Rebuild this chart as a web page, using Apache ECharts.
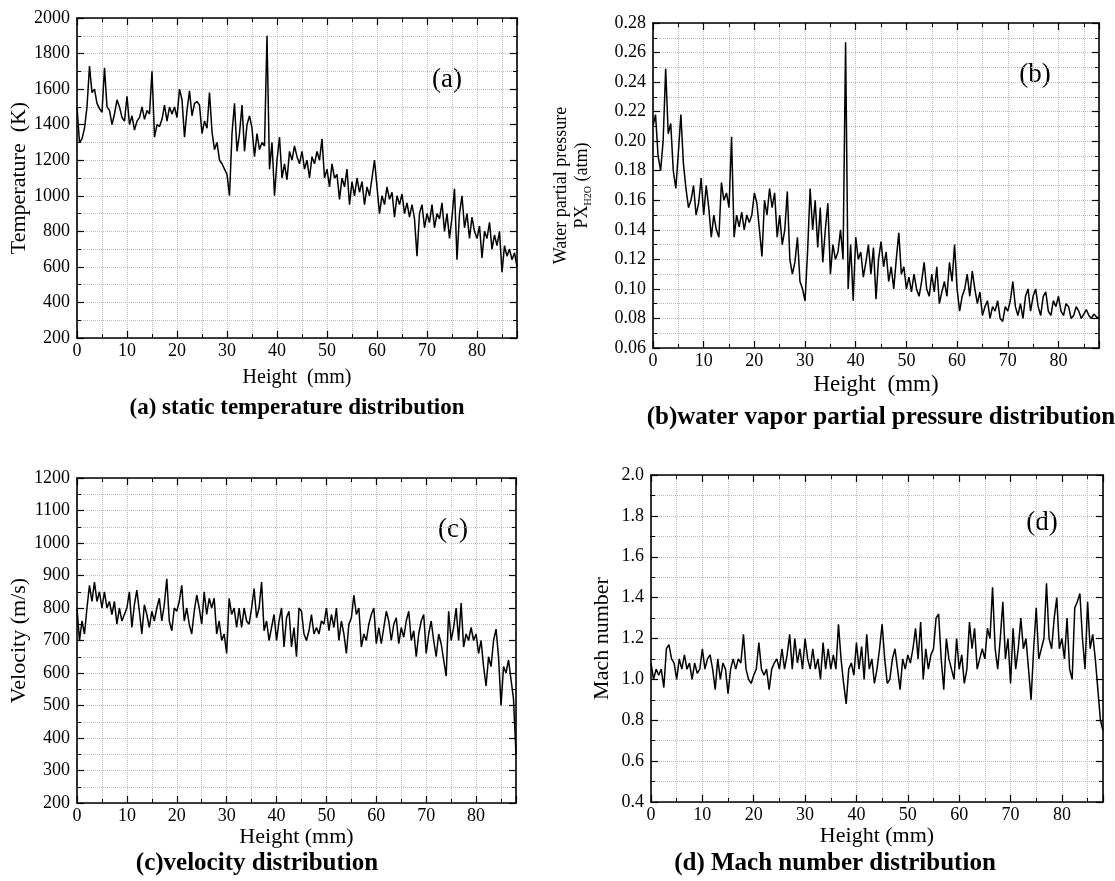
<!DOCTYPE html>
<html>
<head>
<meta charset="utf-8">
<script src="https://cdn.jsdelivr.net/npm/echarts@6.0.0/dist/echarts.min.js"></script>
<style>
html, body { margin: 0; padding: 0; background: #fff; }
#box { width: 1115px; height: 881px; }
</style>
</head>
<body>
<div id="box"></div>
<script>
// sampling step of the height axis (mm)
var STEP = 0.5;

// (a) static temperature (K)
var temperature = [
    1500, 1300, 1320, 1380, 1500, 1730, 1580, 1600, 1520, 1490,
    1470, 1720, 1500, 1480, 1400, 1460, 1540, 1500, 1440, 1420,
    1560, 1400, 1450, 1370, 1420, 1440, 1500, 1430, 1480, 1460,
    1700, 1330, 1400, 1390, 1430, 1510, 1420, 1500, 1460, 1500,
    1440, 1600, 1540, 1330, 1480, 1590, 1450, 1520, 1530, 1510,
    1350, 1420, 1380, 1580, 1360, 1260, 1300, 1200, 1180, 1150,
    1120, 1000, 1350, 1520, 1250, 1350, 1510, 1250, 1400, 1450,
    1380, 1220, 1350, 1260, 1300, 1280, 1900, 1150, 1300, 1000,
    1200, 1330, 1100, 1180, 1090, 1250, 1200, 1280, 1220, 1180,
    1250, 1150, 1200, 1100, 1220, 1180, 1250, 1200, 1320, 1100,
    1150, 1050, 1180, 1100, 1120, 980, 1100, 1050, 1150, 950,
    1080, 1000, 1100, 1020, 1080, 950, 1050, 1000, 1100, 1200,
    1050, 900, 1000, 950, 1050, 980, 1020, 880, 1000, 950,
    1010, 900, 960, 880, 950, 870, 660, 900, 950, 820,
    900, 850, 950, 820, 900, 870, 960, 800, 900, 760,
    880, 1040, 640, 900, 1000, 820, 900, 760, 880, 800,
    760, 830, 650, 800, 760, 850, 700, 780, 720, 800,
    570, 720, 660, 700, 640, 680, 600
];

// (b) water vapor partial pressure (atm)
var pressure = [
    0.210, 0.218, 0.190, 0.180, 0.200, 0.249, 0.205, 0.212, 0.180, 0.168,
    0.192, 0.218, 0.185, 0.168, 0.155, 0.160, 0.170, 0.150, 0.158, 0.175,
    0.150, 0.170, 0.155, 0.135, 0.150, 0.140, 0.135, 0.172, 0.160, 0.165,
    0.155, 0.203, 0.135, 0.150, 0.142, 0.152, 0.140, 0.150, 0.145, 0.150,
    0.165, 0.158, 0.140, 0.122, 0.160, 0.150, 0.168, 0.155, 0.165, 0.135,
    0.150, 0.130, 0.140, 0.166, 0.120, 0.110, 0.118, 0.135, 0.105, 0.100,
    0.092, 0.125, 0.168, 0.140, 0.160, 0.128, 0.155, 0.118, 0.140, 0.158,
    0.110, 0.130, 0.120, 0.125, 0.140, 0.120, 0.267, 0.100, 0.130, 0.092,
    0.135, 0.120, 0.125, 0.108, 0.118, 0.130, 0.110, 0.128, 0.093, 0.120,
    0.132, 0.115, 0.125, 0.105, 0.115, 0.100, 0.120, 0.138, 0.110, 0.115,
    0.100, 0.108, 0.098, 0.110, 0.100, 0.095, 0.105, 0.118, 0.100, 0.095,
    0.110, 0.098, 0.115, 0.090, 0.098, 0.105, 0.095, 0.118, 0.105, 0.130,
    0.100, 0.085, 0.095, 0.100, 0.110, 0.095, 0.112, 0.100, 0.090, 0.098,
    0.082, 0.088, 0.092, 0.080, 0.088, 0.085, 0.092, 0.080, 0.078, 0.088,
    0.085, 0.092, 0.105, 0.088, 0.082, 0.090, 0.080, 0.095, 0.100, 0.085,
    0.095, 0.100, 0.088, 0.082, 0.095, 0.098, 0.085, 0.082, 0.092, 0.088,
    0.095, 0.085, 0.082, 0.090, 0.088, 0.080, 0.082, 0.088, 0.085, 0.080,
    0.083, 0.086, 0.082, 0.080, 0.083, 0.081, 0.080
];

// (c) velocity (m/s)
var velocity = [
    800, 700, 760, 720, 800, 870, 820, 880, 820, 850,
    800, 850, 800, 820, 780, 820, 750, 800, 760, 780,
    800, 850, 740, 810, 855, 790, 720, 810, 780, 740,
    790, 760, 800, 830, 760, 810, 890, 760, 730, 800,
    790, 820, 870, 760, 800, 750, 720, 790, 840, 800,
    750, 850, 780, 830, 800, 830, 720, 760, 700, 720,
    660, 830, 780, 800, 740, 800, 740, 800, 760, 750,
    800, 860, 770, 800, 880, 730, 760, 700, 740, 780,
    700, 760, 800, 680, 770, 790, 680, 740, 650, 800,
    790, 720, 700, 730, 780, 720, 740, 720, 760, 750,
    800, 730, 780, 740, 800, 700, 760, 720, 660, 750,
    770, 840, 780, 800, 680, 720, 700, 750, 780, 800,
    690, 740, 690, 740, 790, 760, 700, 750, 770, 690,
    740, 710, 760, 790, 700, 730, 650, 720, 760, 780,
    660, 720, 760, 700, 650, 720, 690, 640, 590, 790,
    700, 740, 800, 700, 815, 680, 720, 700, 740, 700,
    720, 660, 700, 620, 560, 650, 620, 700, 735, 650,
    500, 620, 600, 640, 580, 520, 350
];

// (d) Mach number
var mach = [
    1.08, 1.00, 1.05, 1.02, 1.05, 0.96, 1.15, 1.17, 1.10, 1.08,
    1.00, 1.10, 1.05, 1.12, 1.05, 1.08, 1.00, 1.08, 1.03, 1.05,
    1.15, 1.05, 1.10, 1.12, 1.05, 0.95, 1.10, 1.00, 1.08, 1.05,
    0.93, 1.05, 1.10, 1.05, 1.10, 1.08, 1.22, 1.05, 1.00, 0.98,
    1.02, 1.05, 1.18, 1.05, 1.02, 1.05, 0.95, 1.05, 1.08, 1.10,
    1.05, 1.15, 1.05, 1.12, 1.22, 1.05, 1.20, 1.08, 1.15, 1.05,
    1.20, 1.10, 1.05, 1.15, 1.05, 1.10, 1.00, 1.18, 1.05, 1.15,
    1.05, 1.12, 1.05, 1.27, 1.10, 0.98, 0.88, 1.05, 1.08, 1.02,
    1.18, 1.05, 1.16, 1.00, 1.22, 1.05, 1.10, 0.98, 1.05, 1.15,
    1.27, 1.10, 0.98, 1.00, 1.10, 1.15, 1.05, 0.95, 1.10, 1.05,
    1.12, 1.08, 1.15, 1.25, 1.10, 1.28, 1.00, 1.15, 1.05, 1.12,
    1.15, 1.30, 1.32, 1.10, 0.95, 1.20, 1.10, 1.05, 1.00, 1.20,
    1.05, 1.12, 0.98, 1.05, 1.28, 1.15, 1.25, 1.05, 1.10, 1.15,
    1.10, 1.25, 1.20, 1.45, 1.15, 1.05, 1.20, 1.38, 1.10, 1.20,
    0.98, 1.25, 1.05, 1.15, 1.30, 1.15, 1.20, 1.05, 0.90, 1.15,
    1.35, 1.10, 1.15, 1.20, 1.47, 1.20, 1.15, 1.30, 1.40, 1.15,
    1.20, 1.10, 1.30, 1.05, 1.00, 1.35, 1.38, 1.42, 1.20, 1.05,
    1.38, 1.15, 1.22, 1.10, 0.95, 0.80, 0.75
];

// axis ranges: [min, max, major interval]
var xRange = [0, 88, 10];
var tempRange = [200, 2000, 200];
var pressRange = [0.06, 0.28, 0.02];
var velRange = [200, 1200, 100];
var machRange = [0.4, 2.0, 0.2];

var heights = temperature.map(function (v, i) { return +(i * STEP).toFixed(1); });

var FONT = 'Liberation Serif';
var GRIDLINE = {show: true, lineStyle: {color: '#bdbdbd', type: 'dotted', width: 1}};
var FRAME = {show: true, onZero: false, lineStyle: {color: '#000', width: 1.6}};
var TICK = {show: true, inside: true, length: 7, lineStyle: {color: '#000', width: 1.2}};
var MINOR = {show: true, splitNumber: 2, length: 4, lineStyle: {color: '#000', width: 1}};

var charts = echarts.init(document.getElementById('box'));

function makeX(gi, name, nameSize, nameGap) {
    return [{
        gridIndex: gi, type: 'value', position: 'bottom',
        min: xRange[0], max: xRange[1], interval: xRange[2],
        name: name, nameLocation: 'middle', nameGap: nameGap,
        nameTextStyle: {fontFamily: FONT, fontSize: nameSize, color: '#000'},
        axisLine: FRAME, axisTick: TICK, minorTick: MINOR,
        axisLabel: {
            fontFamily: FONT, fontSize: 18, color: '#000', margin: 4,
            formatter: function (v) { return v % 10 === 0 ? String(v) : ''; }
        },
        splitLine: GRIDLINE, minorSplitLine: GRIDLINE
    }, {
        gridIndex: gi, type: 'value', position: 'top',
        min: xRange[0], max: xRange[1], interval: xRange[2],
        axisLine: FRAME, axisTick: TICK, minorTick: MINOR,
        axisLabel: {show: false}, splitLine: {show: false}
    }];
}

function makeY(gi, range, name, nameGap, digits, nameStyle) {
    return [{
        gridIndex: gi, type: 'value', position: 'left',
        min: range[0], max: range[1], interval: range[2],
        name: name, nameLocation: 'middle', nameGap: nameGap,
        nameTextStyle: nameStyle,
        axisLine: FRAME, axisTick: TICK, minorTick: MINOR,
        axisLabel: {
            fontFamily: FONT, fontSize: 18, color: '#000', margin: 7,
            formatter: function (v) { return v.toFixed(digits); }
        },
        splitLine: GRIDLINE, minorSplitLine: GRIDLINE
    }, {
        gridIndex: gi, type: 'value', position: 'right',
        min: range[0], max: range[1], interval: range[2],
        axisLine: FRAME, axisTick: TICK, minorTick: MINOR,
        axisLabel: {show: false}, splitLine: {show: false}
    }];
}

function line(gi, vals) {
    return {
        type: 'line', xAxisIndex: gi * 2, yAxisIndex: gi * 2,
        data: heights.map(function (h, i) { return [h, vals[i]]; }),
        showSymbol: false, symbol: 'none',
        lineStyle: {color: '#000', width: 1.5}
    };
}

function label(x, y, text, size, bold) {
    return {
        type: 'text', x: x, y: y,
        style: {
            text: text, fill: '#000', fontFamily: FONT, fontSize: size,
            fontWeight: bold ? 'bold' : 'normal',
            align: 'center', verticalAlign: 'middle'
        }
    };
}

var nameStyle = {fontFamily: FONT, fontSize: 22, color: '#000'};
var pressName = {
    fontFamily: FONT, fontSize: 18, color: '#000', lineHeight: 21,
    rich: {
        t: {fontFamily: FONT, fontSize: 18, color: '#000', lineHeight: 21},
        s: {fontFamily: FONT, fontSize: 10, color: '#000', lineHeight: 21, verticalAlign: 'bottom'}
    }
};

var option = {
    animation: false,
    backgroundColor: '#fff',
    grid: [
        {left: 77, top: 18, width: 440, height: 320},
        {left: 653, top: 23, width: 446, height: 325},
        {left: 77, top: 478, width: 439, height: 325},
        {left: 651, top: 475, width: 452, height: 327}
    ],
    xAxis: [].concat(
        makeX(0, 'Height  (mm)', 20, 30),
        makeX(1, 'Height  (mm)', 23, 25),
        makeX(2, 'Height (mm)', 22, 23),
        makeX(3, 'Height (mm)', 22, 23)
    ),
    yAxis: [].concat(
        makeY(0, tempRange, 'Temperature  (K)', 47, 0, nameStyle),
        makeY(1, pressRange, 'Water partial pressure\n{t|PX}{s|H2O}{t| (atm)}', 60, 2, pressName),
        makeY(2, velRange, 'Velocity (m/s)', 42, 0, nameStyle),
        makeY(3, machRange, 'Mach number', 38, 1, nameStyle)
    ),
    series: [
        line(0, temperature),
        line(1, pressure),
        line(2, velocity),
        line(3, mach)
    ],
    graphic: [
        label(447, 80, '(a)', 27),
        label(1035, 75, '(b)', 27),
        label(453, 530, '(c)', 27),
        label(1042, 523, '(d)', 27),
        label(297, 408, '(a) static temperature distribution', 23, true),
        label(881, 418, '(b)water vapor partial pressure distribution', 25, true),
        label(257, 864, '(c)velocity distribution', 25, true),
        label(835, 864, '(d) Mach number distribution', 25, true)
    ]
};

charts.setOption(option);
</script>
</body>
</html>
